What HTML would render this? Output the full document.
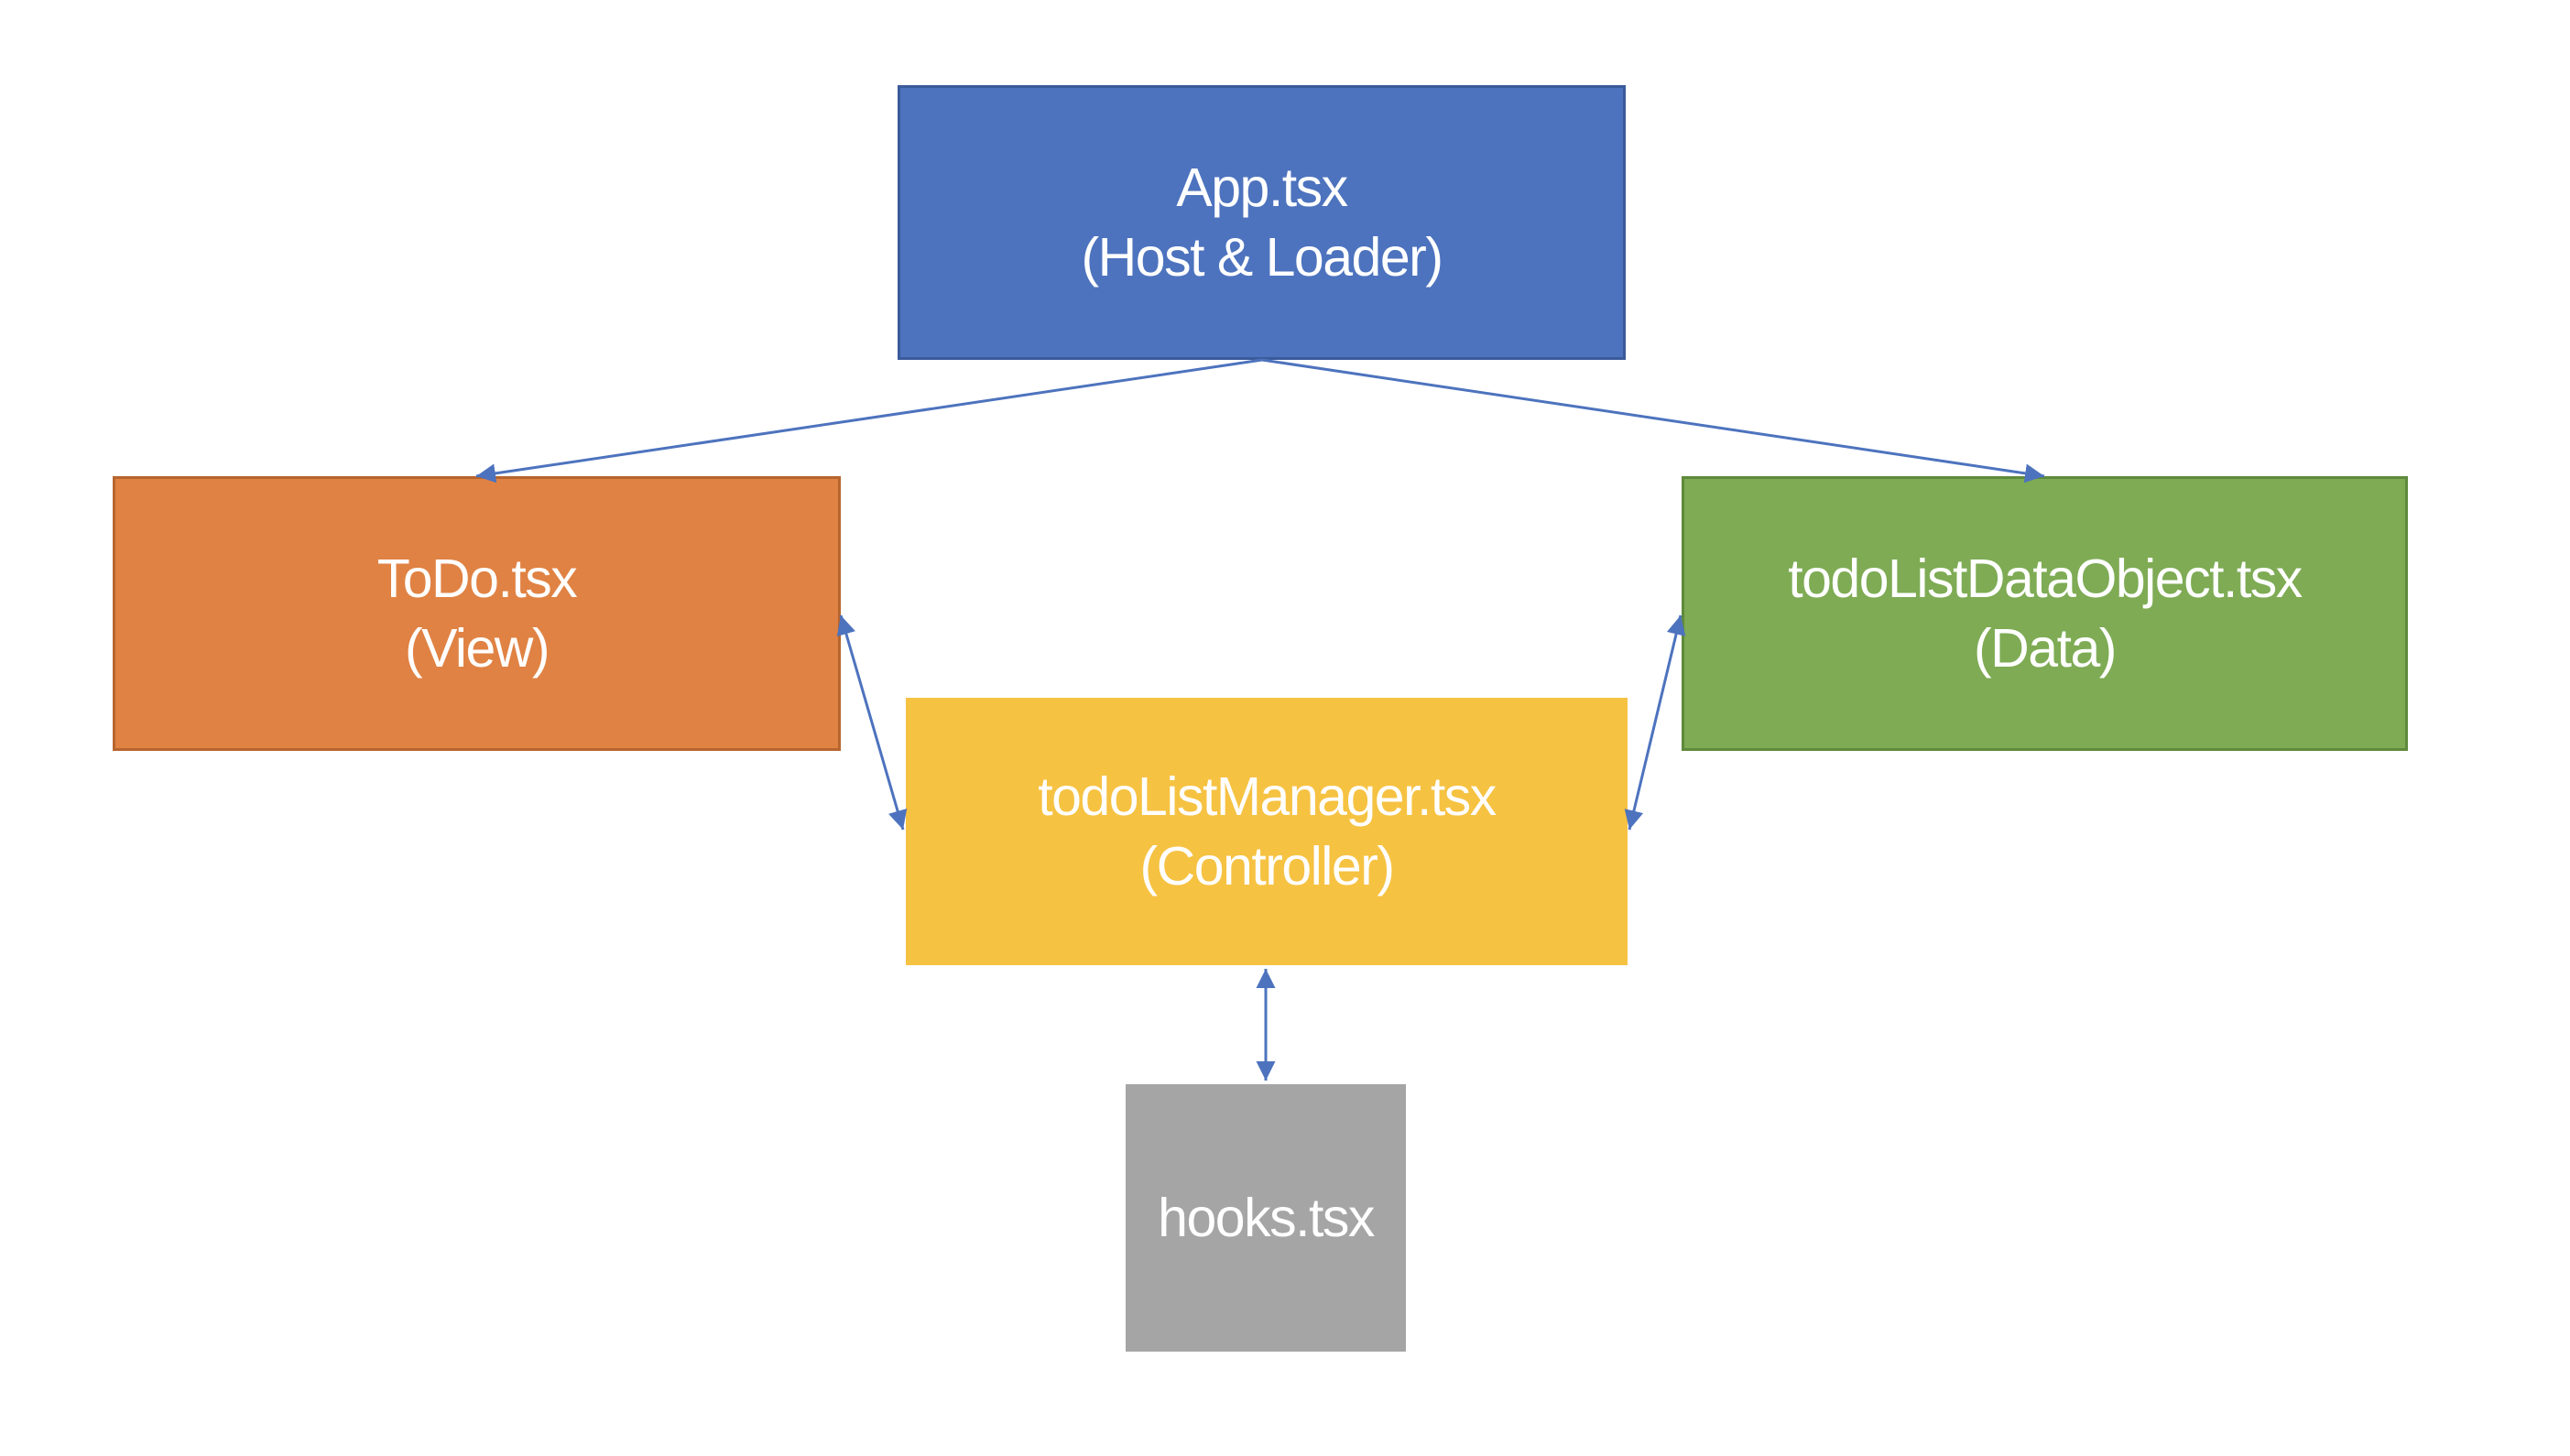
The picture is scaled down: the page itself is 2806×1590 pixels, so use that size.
<!DOCTYPE html>
<html><head><style>
html,body{margin:0;padding:0;background:#fff;}
body{width:2806px;height:1590px;position:relative;overflow:hidden;font-family:"Liberation Sans",sans-serif;}
.b{position:absolute;box-sizing:border-box;color:#fff;display:flex;align-items:center;justify-content:center;text-align:center;font-size:59px;line-height:76px;letter-spacing:-1.5px;}
svg{position:absolute;left:0;top:0;}
</style></head><body>
<div class="b" style="left:980px;top:93px;width:795px;height:300px;background:#4d73be;border:3px solid #3a5a9a;">App.tsx<br>(Host &amp; Loader)</div>
<div class="b" style="left:123px;top:520px;width:795px;height:300px;background:#e08243;border:3px solid #b6652f;">ToDo.tsx<br>(View)</div>
<div class="b" style="left:1836px;top:520px;width:793px;height:300px;background:#7eab54;border:3px solid #5f8a3c;">todoListDataObject.tsx<br>(Data)</div>
<div class="b" style="left:989px;top:762px;width:788px;height:292px;background:#f6c242;">todoListManager.tsx<br>(Controller)</div>
<div class="b" style="left:1229px;top:1184px;width:306px;height:292px;background:#a5a5a5;">hooks.tsx</div>
<svg width="2806" height="1590" viewBox="0 0 2806 1590">
<defs><marker id="a" viewBox="0 0 10 10" refX="10" refY="5" markerWidth="7" markerHeight="7" orient="auto-start-reverse"><path d="M0,0 L10,5 L0,10 z" fill="#4d73be"/></marker></defs>
<g stroke="#4d73be" stroke-width="3" fill="none">
<line x1="1378" y1="393" x2="520" y2="520" marker-end="url(#a)"/>
<line x1="1378" y1="393" x2="2232" y2="520" marker-end="url(#a)"/>
<line x1="918" y1="672" x2="986" y2="906" marker-start="url(#a)" marker-end="url(#a)"/>
<line x1="1835" y1="672" x2="1779" y2="906" marker-start="url(#a)" marker-end="url(#a)"/>
<line x1="1382" y1="1058" x2="1382" y2="1180" marker-start="url(#a)" marker-end="url(#a)"/>
</g></svg>
</body></html>
